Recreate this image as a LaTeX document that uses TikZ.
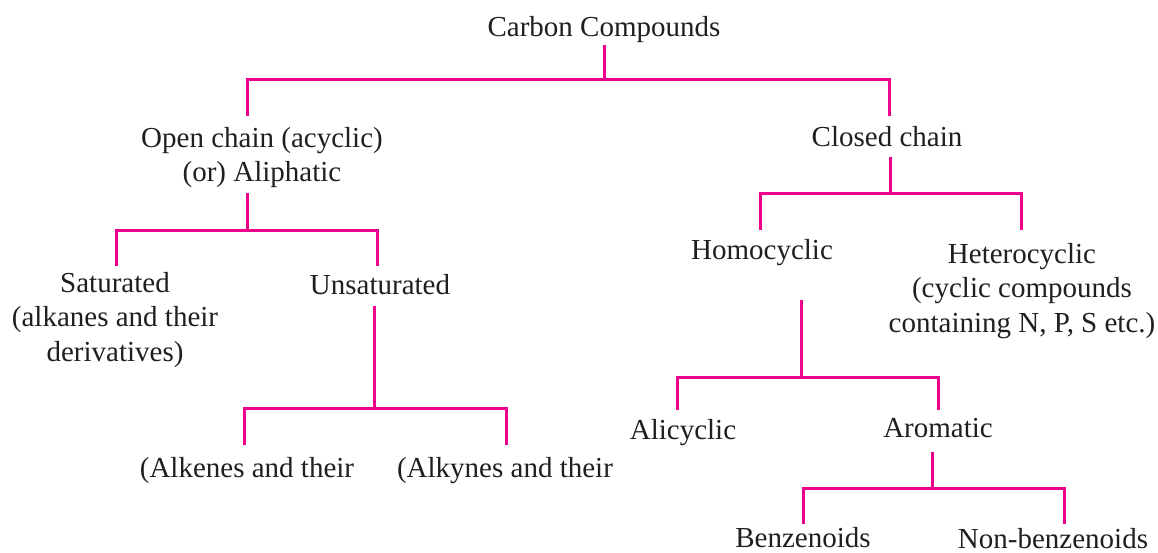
\documentclass[tikz,border=0pt]{standalone}
\usepackage{fontspec}
\setmainfont{Liberation Serif}
\definecolor{pinkline}{RGB}{236,0,140}
\begin{document}
\begin{tikzpicture}[x=1pt,y=-1pt,
  lbl/.style={inner sep=0pt,anchor=base,align=center,font=\fontsize{29}{34.5}\selectfont,text=black!88},
  con/.style={draw=pinkline,line width=3pt}]
\useasboundingbox (0,0) rectangle (1158,553);
% nodes (base anchor = baseline of the last line)
\node[lbl] (cc) at (604,37) {Carbon Compounds};
\node[lbl] (open) at (262,182) {Open chain (acyclic)\\(or) Aliphatic};
\node[lbl] (closed) at (887,147) {Closed chain};
\node[lbl] (sat) at (115,361) {Saturated\\(alkanes and their\\derivatives)};
\node[lbl] (unsat) at (380,294) {Unsaturated};
\node[lbl] (alkene) at (247,477) {(Alkenes and their};
\node[lbl] (alkyne) at (505,477) {(Alkynes and their};
\node[lbl] (homo) at (762,259) {Homocyclic};
\node[lbl] (hetero) at (1022,332) {Heterocyclic\\(cyclic compounds\\containing N, P, S etc.)};
\node[lbl] (ali) at (683,439) {Alicyclic};
\node[lbl] (arom) at (938,437) {Aromatic};
\node[lbl] (benz) at (803,547) {Benzenoids};
\node[lbl] (nonbenz) at (1053,548) {Non-benzenoids};
% connector points
\coordinate (cc-t) at (604,45);  \coordinate (cc-j) at (604,80);
\coordinate (open-b) at (247,116); \coordinate (closed-b) at (889,116);
\coordinate (open-t) at (247,193); \coordinate (open-j) at (247,231);
\coordinate (sat-b) at (116,266); \coordinate (unsat-b) at (377,266);
\coordinate (unsat-t) at (374,306); \coordinate (unsat-j) at (374,408);
\coordinate (alkene-b) at (244,445); \coordinate (alkyne-b) at (506,445);
\coordinate (closed-t) at (890,157); \coordinate (closed-j) at (890,194);
\coordinate (homo-b) at (760,230); \coordinate (hetero-b) at (1021,230);
\coordinate (homo-t) at (801,300); \coordinate (homo-j) at (801,377);
\coordinate (ali-b) at (677,410); \coordinate (arom-b) at (938,410);
\coordinate (arom-t) at (932,452); \coordinate (arom-j) at (932,488);
\coordinate (benz-b) at (803,524); \coordinate (nonbenz-b) at (1064,524);
% connectors
\draw[con] (cc-t) -- (cc-j);
\draw[con] (open-b) |- (cc-j) -| (closed-b);
\draw[con] (open-t) -- (open-j);
\draw[con] (sat-b) |- (open-j) -| (unsat-b);
\draw[con] (unsat-t) -- (unsat-j);
\draw[con] (alkene-b) |- (unsat-j) -| (alkyne-b);
\draw[con] (closed-t) -- (closed-j);
\draw[con] (homo-b) |- (closed-j) -| (hetero-b);
\draw[con] (homo-t) -- (homo-j);
\draw[con] (ali-b) |- (homo-j) -| (arom-b);
\draw[con] (arom-t) -- (arom-j);
\draw[con] (benz-b) |- (arom-j) -| (nonbenz-b);
\end{tikzpicture}
\end{document}
